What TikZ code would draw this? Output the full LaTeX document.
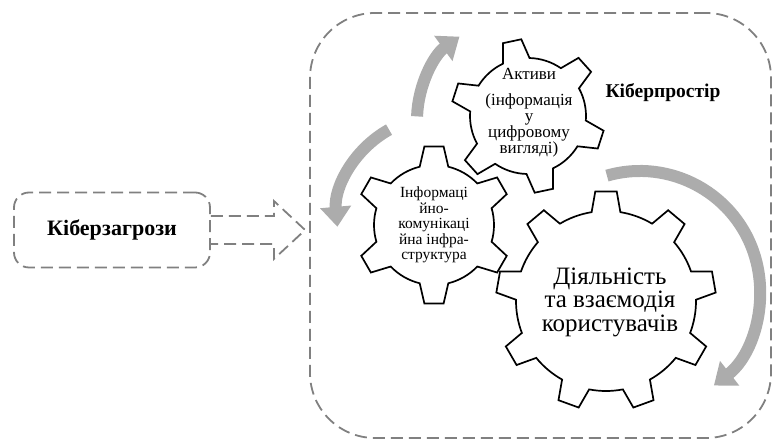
\documentclass[tikz,border=0pt]{standalone}
\usepackage{fontspec}
\setmainfont{Liberation Serif}
\usetikzlibrary{arrows.meta, calc, positioning}
\tikzset{
  dashbox/.style={draw=gray, line width=1.8pt, dash pattern=on 12pt off 6pt},
  cog/.style={draw=black, line width=1.7pt, line join=miter},
  turn/.style={draw=gray!65, line width=12pt, -{Triangle[width=30pt,length=20pt]}},
}
% centre, teeth, inner r, outer r, turn, half base angle, half tip angle
\newcommand{\drawcog}[7]{%
  \pgfmathsetmacro{\cogstep}{360/#2}
  \draw[cog, shift={(#1)}] ({#5-#6}:#3)
    \foreach \k in {1,...,#2}{
      -- ({#5+(\k-1)*\cogstep-#7}:#4)
      -- ({#5+(\k-1)*\cogstep+#7}:#4)
      -- ({#5+(\k-1)*\cogstep+#6}:#3)
      arc[start angle={#5+(\k-1)*\cogstep+#6}, delta angle={\cogstep-2*#6}, radius=#3]
    } -- cycle;
}

\begin{document}
\begin{tikzpicture}[x=1pt,y=1pt]
\useasboundingbox (0,0) rectangle (773,441);

\node[dashbox, rounded corners=65pt, minimum width=461pt, minimum height=425pt] (cs) at (540.5,215.5) {};
\node[dashbox, rounded corners=15pt, minimum width=196pt, minimum height=75pt,
  font=\bfseries\fontsize{22}{23}\selectfont] (thr) at (112,211) {Кіберзагрози};
\node[anchor=base west, font=\bfseries\fontsize{19.5}{20}\selectfont] (cslbl) at (602,343) {Кіберпростір};

\coordinate (tip) at ($(cs.west |- thr.east)+(-4,0)$);
\draw[dashbox] ($(thr.east)+(0,14)$) -- ++(63,0) -- ++(0,15) -- (tip)
  -- ($(thr.east)+(63,-29)$) -- ++(0,15) -- ++(-63,0);

\draw[turn] ([shift={(178:103)}]520,321) arc[start angle=178, end angle=126, radius=103];
\draw[turn] ([shift={(119:101)}]438,223) arc[start angle=119, end angle=185, radius=101];
\draw[turn] ([shift={(106:120)}]640,150) arc[start angle=106, end angle=-52, radius=120];

\coordinate (gA) at (528,325);
\coordinate (gI) at (434,216);
\coordinate (gU) at (606,140);
\drawcog{gA}{6}{58}{77}{102}{13.5}{7}
\drawcog{gI}{6}{60}{79}{90}{13.8}{7}
\drawcog{gU}{9}{90}{110}{90}{9.2}{5.6}

\node[align=center, font=\fontsize{17}{16}\selectfont] (act) at ($(gA)+(1,3)$)
  {Активи\\[10pt](інформація\\у\\цифровому\\вигляді)};
\node[align=center, font=\fontsize{15.5}{15.5}\selectfont] (ict) at (gI)
  {Інформаці\\йно-\\комунікаці\\йна інфра-\\структура};
\node[align=center, font=\fontsize{25}{23.5}\selectfont] (usr) at ($(gU)+(4,-1)$)
  {Діяльність\\та взаємодія\\користувачів};
\end{tikzpicture}
\end{document}
